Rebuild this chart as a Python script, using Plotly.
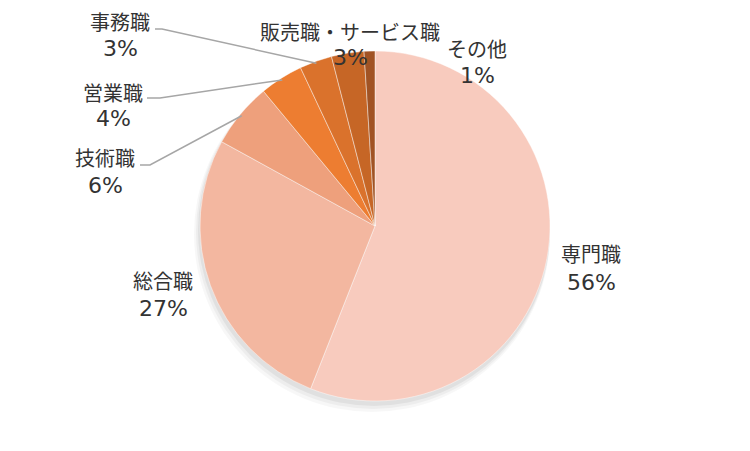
import math
import plotly.graph_objects as go

# ---- data ----
categories = ["専門職", "総合職", "技術職", "営業職", "事務職", "販売職・サービス職", "その他"]
values = [56, 27, 6, 4, 3, 3, 1]
pct_labels = ["56%", "27%", "6%", "4%", "3%", "3%", "1%"]
colors = ["#F8CBBE", "#F3B7A0", "#EEA07C", "#ED7D31", "#DA722C", "#C66626", "#A15324"]

# ---- layout (pixels) ----
W, H = 750, 451
OFF = 8  # page body margin
CX, CY, R = 375, 226, 175
# label centres (x, name line y, percent line y) in pixels
label_pos = {
    "専門職": (591, 253, 282),
    "総合職": (163, 280, 308),
    "技術職": (105, 158, 185),
    "営業職": (113, 92, 119),
    "事務職": (120, 22, 48),
    "販売職・サービス職": (350, 31, 58),
    "その他": (477, 48, 76),
}
# leader line start (pixels) for slices with leaders
leader_start = {
    "技術職": [(140, 165), (150, 165)],
    "営業職": [(147, 98), (160, 98)],
    "事務職": [(155, 29), (162, 29)],
}

def px(x):
    return (x - OFF) / W

def py(y):
    return 1 - (y - OFF) / H

fig = go.Figure()
fig.add_trace(go.Pie(
    labels=categories,
    values=values,
    sort=False,
    direction="clockwise",
    rotation=0,
    textinfo="none",
    hoverinfo="label+percent",
    marker=dict(colors=colors, line=dict(color="rgba(255,255,255,0.55)", width=0.8)),
    domain=dict(x=[px(CX - R), px(CX + R)], y=[py(CY + R), py(CY - R)]),
    showlegend=False,
))

shapes = []
# soft shadow
for i, (dx, dy, a) in enumerate([(-1, 4, 0.05), (-2, 6, 0.04), (-3, 8, 0.03)]):
    rr = R + 1 + i
    shapes.append(dict(type="circle", xref="paper", yref="paper", layer="below",
                       x0=px(CX + dx - rr), x1=px(CX + dx + rr),
                       y0=py(CY + dy + rr), y1=py(CY + dy - rr),
                       fillcolor=f"rgba(0,0,0,{a})", line=dict(width=0)))

total = sum(values)
cum = 0
annotations = []
for cat, v, p in zip(categories, values, pct_labels):
    mid = (cum + v / 2) / total * 2 * math.pi
    cum += v
    if cat in leader_start:
        ex = CX + (R - 2) * math.sin(mid)
        ey = CY - (R - 2) * math.cos(mid)
        pts = leader_start[cat] + [(ex, ey)]
        path = "M " + " L ".join(f"{px(x):.5f},{py(y):.5f}" for x, y in pts)
        shapes.append(dict(type="path", xref="paper", yref="paper", path=path,
                           line=dict(color="#A6A6A6", width=1.5)))
    lx, ny, pyy = label_pos[cat]
    annotations.append(dict(x=px(lx), y=py(ny), xref="paper", yref="paper",
                            text=cat, showarrow=False, xanchor="center", yanchor="middle",
                            borderpad=0,
                            font=dict(size=20, color="#333333",
                                      family="Noto Sans CJK JP, sans-serif")))
    annotations.append(dict(x=px(lx), y=py(pyy), xref="paper", yref="paper",
                            text=p, showarrow=False, xanchor="center", yanchor="middle",
                            borderpad=0,
                            font=dict(size=22, color="#333333",
                                      family="DejaVu Sans, sans-serif")))

fig.update_layout(
    width=W, height=H,
    margin=dict(l=0, r=0, t=0, b=0),
    paper_bgcolor="white",
    plot_bgcolor="white",
    shapes=shapes,
    annotations=annotations,
)

fig.write_html("out.html")
